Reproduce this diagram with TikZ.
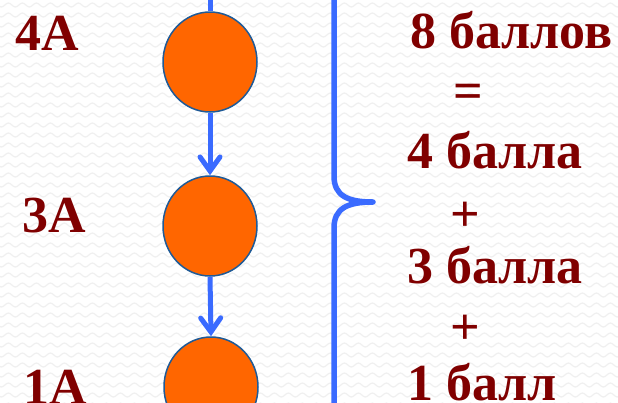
\documentclass[tikz,border=0pt]{standalone}
\usepackage{fontspec}
\setmainfont{Liberation Serif}
\usetikzlibrary{shapes.geometric,arrows.meta,decorations.pathmorphing}
\definecolor{txtred}{HTML}{800000}
\definecolor{ballorange}{HTML}{FF6600}
\definecolor{balledge}{HTML}{1F5A96}
\definecolor{arrowblue}{HTML}{3A6BFF}
\definecolor{wavegray}{HTML}{F0F0F0}
\begin{document}
\begin{tikzpicture}[x=1pt,y=-1pt,
  ball/.style={ellipse,fill=ballorange,draw=balledge,line width=1.5pt,minimum width=94pt,minimum height=100pt,inner sep=0pt},
  link/.style={draw=arrowblue,line width=5pt,-{Straight Barb[length=14pt,width=20pt,line cap=round]}},
  bigtxt/.style={text=txtred,font=\fontsize{52}{60}\selectfont\bfseries,inner sep=0pt,anchor=base west},
  optxt/.style={text=txtred,font=\fontsize{52}{60}\selectfont\bfseries,inner sep=0pt,anchor=center},
  wave/.style={draw=wavegray,line width=1.2pt,decorate,decoration={snake,segment length=14pt,amplitude=2pt}}
]
\useasboundingbox (0,0) rectangle (618,402);
\fill[white] (0,0) rectangle (618,402);
\begin{scope}
\clip (0,0) rectangle (618,402);
\foreach \r in {0,...,40}{
  \draw[wave] (-10,{5+10*\r}) -- (630,{5+10*\r});
}
\end{scope}
% balls
\node[ball] (c1) at (210,62) {};
\node[ball] (c2) at (210,226) {};
\node[ball] (c3) at (211,387) {};
\coordinate (top) at (210,-4);
\draw[arrowblue,line width=5pt] (top) -- (c1.north);
\draw[link] (c1.south) -- (c2.north);
\draw[link] (c2.south) -- (c3.north);
% brace
\draw[arrowblue,line width=5.5pt,line cap=round,line join=round]
  (334,-5) -- (334,176) .. controls (334,196) and (348,202) .. (373,202)
  .. controls (348,202) and (334,208) .. (334,228) -- (334,407);
% left labels
\node[bigtxt] (l4) at (15,50) {4A};
\node[bigtxt] (l3) at (22,232) {3A};
\node[bigtxt] (l1) at (23,404) {1A};
% right column
\node[bigtxt] (t8) at (410,48) {8 баллов};
\node[optxt] (eq) at (468,96) {=};
\node[bigtxt] (t4) at (407,168) {4 балла};
\node[optxt] (p1) at (465,217) {+};
\node[bigtxt] (t3) at (407,283) {3 балла};
\node[optxt] (p2) at (465,330) {+};
\node[bigtxt] (t1) at (407,400) {1 балл};
\end{tikzpicture}
\end{document}
